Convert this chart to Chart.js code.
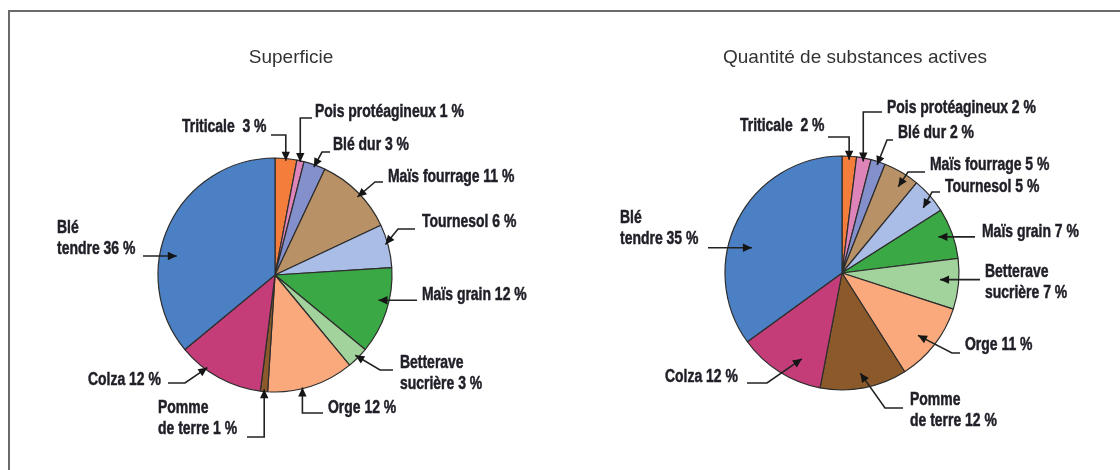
<!DOCTYPE html>
<html lang="fr">
<head>
<meta charset="utf-8">
<script src="https://cdn.jsdelivr.net/npm/chart.js@4.4.1/dist/chart.umd.min.js"></script>
<style>
  html, body { margin: 0; padding: 0; background: #fff; }
  #wrap { position: relative; width: 1120px; height: 470px; overflow: hidden; }
  #frame { position: absolute; left: 8px; top: 10px; right: -10px; bottom: -10px;
           border-top: 2px solid #6a6a6a; border-left: 2px solid #6a6a6a; }
  .box { position: absolute; top: 0; width: 560px; height: 470px; }
</style>
</head>
<body>
<div id="wrap">
  <div id="frame"></div>
  <div class="box" style="left:0"><canvas id="superficieChart" width="560" height="470"></canvas></div>
  <div class="box" style="left:560px"><canvas id="substancesChart" width="560" height="470"></canvas></div>
</div>
<script>
// Données (en %), dans l'ordre des secteurs à partir de midi, sens horaire
const categories = ['Triticale', 'Pois protéagineux', 'Blé dur', 'Maïs fourrage', 'Tournesol',
  'Maïs grain', 'Betterave sucrière', 'Orge', 'Pomme de terre', 'Colza', 'Blé tendre'];
const superficie = [3, 1, 3, 11, 6, 12, 3, 12, 1, 12, 36];
const substances = [2, 2, 2, 5, 5, 7, 7, 11, 12, 12, 35];

const colors = ['#f47d3c', '#de84b8', '#8490cc', '#b99166', '#aabde6', '#3aa845',
  '#a3d39c', '#f9a97c', '#8c5a2a', '#c43c78', '#4b80c4'];

// coupure des étiquettes sur deux lignes
const labelLines = {
  'Triticale': ['Triticale '],
  'Blé tendre': ['Blé', 'tendre'],
  'Betterave sucrière': ['Betterave', 'sucrière'],
  'Pomme de terre': ['Pomme', 'de terre']
};

// placement des étiquettes, relatif au centre du camembert
// at = position dans le secteur (0..1), f = fraction du rayon pour la flèche
const layoutLeft = [
  { tx: -93, ty: -148, sx: -4, sy: -140, mode: 'v', at: 0.5, f: 0.98 },
  { tx: 40, ty: -163, sx: 37, sy: -157, mode: 'v', at: 0.5, f: 0.99 },
  { tx: 58, ty: -130, sx: 55, sy: -123, ex: 47, ey: -123, at: 0.5, f: 0.98 },
  { tx: 113, ty: -98, sx: 108, sy: -93, ex: 100, ey: -93, at: 0.54, f: 0.97 },
  { tx: 147, ty: -53, sx: 140, sy: -46, ex: 123, ey: -46, at: 0.45, f: 0.98 },
  { tx: 147, ty: 20, sx: 142, mode: 'h', at: 0.4, f: 0.91 },
  { tx: 125, ty: 88, sx: 118, sy: 95, ex: 105, ey: 95, at: 0.5, f: 0.97 },
  { tx: 53, ty: 133, sx: 48, sy: 138, mode: 'v', at: 0.6, f: 0.99 },
  { tx: -117, ty: 133, sx: -28, sy: 162, mode: 'v', at: 0.5, f: 0.98 },
  { tx: -187, ty: 105, sx: -107, sy: 108, ex: -90, ey: 108, at: 0.67, f: 0.98 },
  { tx: -218, ty: -47, sx: -132, mode: 'h', at: 0.39, f: 0.855 }
];
const layoutRight = [
  { tx: -102, ty: -147, sx: -14, sy: -136, mode: 'v', at: 0.5, f: 0.97 },
  { tx: 45, ty: -165, sx: 40, sy: -161, mode: 'v', at: 0.5, f: 0.97 },
  { tx: 56, ty: -140, sx: 51, sy: -133, ex: 45, ey: -133, at: 0.5, f: 0.97 },
  { tx: 88, ty: -108, sx: 83, sy: -101, ex: 66, ey: -101, at: 0.64, f: 0.88 },
  { tx: 103, ty: -86, sx: 98, sy: -81, ex: 90, ey: -81, at: 0.65, f: 0.89 },
  { tx: 140, ty: -41, sx: 133, mode: 'h', at: 0.47, f: 0.88 },
  { tx: 143, ty: -1, sx: 138, mode: 'h', at: 0.44, f: 0.84 },
  { tx: 123, ty: 72, sx: 118, sy: 80, ex: 110, ey: 80, at: 0.54, f: 0.84 },
  { tx: 68, ty: 127, sx: 61, sy: 135, ex: 43, ey: 135, at: 0.51, f: 0.87 },
  { tx: -177, ty: 104, sx: -95, sy: 110, ex: -75, ey: 110, at: 0.33, f: 0.81 },
  { tx: -222, ty: -55, sx: -134, mode: 'h', at: 0.41, f: 0.8 }
];

// Plugin : titre + étiquettes avec flèches
function makeLabels(title, titleDx, titleDy, layout) {
  return {
    id: 'pieLabels',
    afterDatasetsDraw(chart) {
      const ctx = chart.ctx;
      const meta = chart.getDatasetMeta(0);
      const values = chart.data.datasets[0].data;
      const cx = meta.data[0].x, cy = meta.data[0].y;

      ctx.save();
      ctx.fillStyle = '#333';
      ctx.font = '19px "Liberation Sans", Arial, sans-serif';
      ctx.textAlign = 'center';
      ctx.textBaseline = 'middle';
      ctx.fillText(title, cx + titleDx, cy + titleDy);

      meta.data.forEach((arc, i) => {
        const p = layout[i];
        const a = arc.startAngle + p.at * (arc.endAngle - arc.startAngle);
        const tip = { x: arc.x + p.f * arc.outerRadius * Math.cos(a),
                      y: arc.y + p.f * arc.outerRadius * Math.sin(a) };
        let pts;
        if (p.mode === 'h') {
          pts = [{ x: cx + p.sx, y: tip.y }, tip];
        } else if (p.mode === 'v') {
          pts = [{ x: cx + p.sx, y: cy + p.sy }, { x: tip.x, y: cy + p.sy }, tip];
        } else {
          pts = [{ x: cx + p.sx, y: cy + p.sy }, { x: cx + p.ex, y: cy + p.ey }, tip];
        }

        // ligne
        ctx.strokeStyle = '#222';
        ctx.lineWidth = 1.6;
        ctx.beginPath();
        ctx.moveTo(pts[0].x, pts[0].y);
        for (let k = 1; k < pts.length; k++) ctx.lineTo(pts[k].x, pts[k].y);
        ctx.stroke();

        // pointe de flèche
        const prev = pts[pts.length - 2];
        const ang = Math.atan2(tip.y - prev.y, tip.x - prev.x);
        const L = 9, W = 4.2;
        const bx = tip.x - L * Math.cos(ang), by = tip.y - L * Math.sin(ang);
        ctx.fillStyle = '#151515';
        ctx.beginPath();
        ctx.moveTo(tip.x, tip.y);
        ctx.lineTo(bx - W * Math.sin(ang), by + W * Math.cos(ang));
        ctx.lineTo(bx + W * Math.sin(ang), by - W * Math.cos(ang));
        ctx.closePath();
        ctx.fill();

        // texte (condensé)
        const name = chart.data.labels[i];
        const lines = (labelLines[name] || [name]).slice();
        lines[lines.length - 1] += ' ' + values[i] + ' %';
        ctx.fillStyle = '#1f1f27';
        ctx.strokeStyle = '#1f1f27';
        ctx.lineWidth = 0.5;
        ctx.font = 'bold 18px "Liberation Sans", Arial, sans-serif';
        ctx.textAlign = 'left';
        lines.forEach((t, k) => {
          ctx.save();
          ctx.translate(cx + p.tx, cy + p.ty + k * 21.5);
          ctx.scale(0.775, 1);
          ctx.fillText(t, 0, 0);
          ctx.strokeText(t, 0, 0);
          ctx.restore();
        });
      });
      ctx.restore();
    }
  };
}

function pieOptions(padding) {
  return {
    responsive: false,
    animation: false,
    radius: 117,
    layout: { padding: padding },
    plugins: { legend: { display: false }, tooltip: { enabled: false } }
  };
}

// Camembert : Superficie
const ctx1 = document.getElementById('superficieChart').getContext('2d');
const superficieChart = new Chart(ctx1, {
  type: 'pie',
  data: {
    labels: categories,
    datasets: [{
      data: superficie,
      backgroundColor: colors,
      borderColor: '#2d2d2d',
      borderWidth: 1.2
    }]
  },
  options: pieOptions({ left: 0, right: 10, top: 80, bottom: 0 }),
  plugins: [makeLabels('Superficie', 16, -217, layoutLeft)]
});

// Camembert : Quantité de substances actives
const ctx2 = document.getElementById('substancesChart').getContext('2d');
const substancesChart = new Chart(ctx2, {
  type: 'pie',
  data: {
    labels: categories,
    datasets: [{
      data: substances,
      backgroundColor: colors,
      borderColor: '#2d2d2d',
      borderWidth: 1.2
    }]
  },
  options: pieOptions({ left: 4, right: 0, top: 76, bottom: 0 }),
  plugins: [makeLabels('Quantité de substances actives', 13, -215, layoutRight)]
});
</script>
</body>
</html>
